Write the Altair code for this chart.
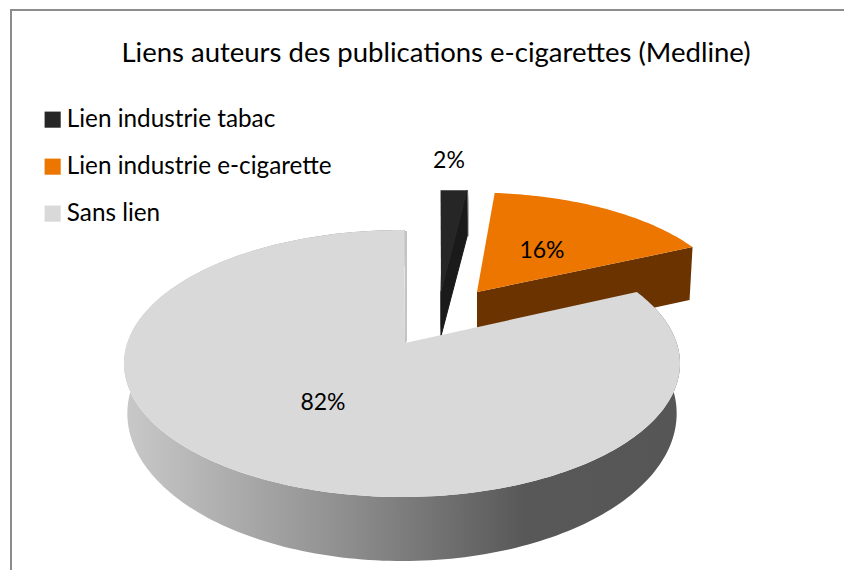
import math
import altair as alt

TITLE = "Liens auteurs des publications e-cigarettes (Medline)"
CATEGORIES = ["Lien industrie tabac", "Lien industrie e-cigarette", "Sans lien"]
SHARES = [2, 16, 82]
TOP_COLORS = ["#262626", "#ec7600", "#d9d9d9"]
SIDE_DARK = "#1a1a1a"
SIDE_ORANGE = "#6b3300"

FONT = "Lato"
W, H = 836, 562
# page coordinates -> chart coordinates
OX, OY = 8, 8
CX, CY, A, B = 402, 363.5, 278, 133.5      # rim ellipse of the pie
APEX = (405, 343)
P = (CY - APEX[1]) / B                     # perspective shift of the centre
ROT = 0.6


def rim(deg):
    t = math.radians(deg + ROT)
    u, v = math.sin(t), math.cos(t)
    d = 1 + P * v
    un, vn = u * math.sqrt(1 - P * P) / d, (v + P) / d
    return CX + A * un, CY - B * vn, vn


def arc(a0, a1, n=120):
    return [rim(a0 + (a1 - a0) * i / n) for i in range(n + 1)]


def shifted(pts, apex, sx, sy):
    return [(apex[0] + (p[0] - APEX[0]) * sx, apex[1] + (p[1] - APEX[1]) * sy) for p in pts]


def feature(pts, cat=None):
    pts = [[p[0] - OX, p[1] - OY] for p in pts]
    pts.append(pts[0])
    return {"type": "Feature", "properties": {"cat": cat or ""},
            "geometry": {"type": "Polygon", "coordinates": [pts]}}


def collection(*features):
    return alt.Data(values={"type": "FeatureCollection", "features": list(features)},
                    format=alt.DataFormat(type="json", property="features"))


def solid(fill, *features, seam=None):
    return alt.Chart(collection(*features)).mark_geoshape(
        fill=fill, strokeWidth=1 if seam else 0, stroke=seam or "transparent"
    ).project(type="identity", scale=1, translate=[0, 0])


deg = [s * 3.6 for s in SHARES]
a_black = deg[0]
a_main_start = deg[0] + deg[1]

# exploded black sliver
black_apex = (441, 292)
bt = shifted(arc(0, a_black, 12), black_apex, 0.89, 0.90)
bt = [(p[0], bt[0][1]) for p in bt]
black_top = [black_apex] + bt
black_side = [black_apex, bt[-1], (bt[-1][0], bt[-1][1] + 46), (black_apex[0], black_apex[1] + 44)]
black_edge = [(black_apex[0] - 1, black_apex[1] + 45), (black_apex[0] - 1, black_apex[1] - 20),
              (black_apex[0] + 1, black_apex[1] + 20)]
black_edge2 = [(bt[-1][0] + 1.5, bt[-1][1]), (bt[-1][0] + 1.5, bt[-1][1] + 46), (bt[-1][0] - 1, bt[-1][1] + 46)]

# exploded orange slice
orange_apex = (477, 292)
ot = shifted(arc(a_black - 2.5, a_main_start, 60), orange_apex, 0.93, 0.88)
orange_top = [orange_apex] + ot
orange_side = [orange_apex, ot[-1], (ot[-1][0] - 3, ot[-1][1] + 53), (orange_apex[0], orange_apex[1] + 54)]

# main slice
main_rim = arc(a_main_start, 360, 240)
main_top = [APEX] + [(p[0], p[1]) for p in main_rim]
lower = [(CX + (p[0] - CX) * 0.988, p[1] + 50 - 14 * p[2]) for p in main_rim]
main_side = [(p[0], p[1]) for p in main_rim] + lower[::-1]
main_cut = [(405, 231), (407, 231), (407, 341), (405, 344)]

side_gradient = alt.Gradient(
    gradient="linear", x1=0, x2=1, y1=0, y2=0,
    stops=[alt.GradientStop(color="#c9c9c9", offset=0),
           alt.GradientStop(color="#8e8e8e", offset=0.4),
           alt.GradientStop(color="#585858", offset=0.72),
           alt.GradientStop(color="#565656", offset=1)])

border = alt.Chart(collection(
    {"type": "Feature", "properties": {},
     "geometry": {"type": "LineString",
                  "coordinates": [[11 - OX, H + 20], [11 - OX, 10 - OY], [W + 20, 10 - OY]]}}
)).mark_geoshape(filled=False, stroke="#8c8c8c", strokeWidth=2).project(
    type="identity", scale=1, translate=[0, 0])

tops = alt.Chart(collection(
    feature(black_top, CATEGORIES[0]),
)).mark_geoshape(strokeWidth=0, stroke="transparent").encode(
    color=alt.Color("properties.cat:N",
                    scale=alt.Scale(domain=CATEGORIES, range=TOP_COLORS),
                    legend=alt.Legend(title=None, orient="none", legendX=32.5, legendY=99.5,
                                      symbolType="square", symbolSize=260, symbolStrokeWidth=0,
                                      labelFont=FONT, labelFontSize=24.3,
                                      labelColor="#000000", labelLimit=400,
                                      rowPadding=22, labelOffset=2))
).project(type="identity", scale=1, translate=[0, 0])


def colored(*features):
    return alt.Chart(collection(*features)).mark_geoshape(strokeWidth=0, stroke="transparent").encode(
        color=alt.Color("properties.cat:N", scale=alt.Scale(domain=CATEGORIES, range=TOP_COLORS), legend=None)
    ).project(type="identity", scale=1, translate=[0, 0])


def label(text, x, y, size, align="center"):
    return alt.Chart(alt.Data(values=[{"t": text}])).mark_text(
        font=FONT, fontSize=size, color="#000000", align=align, baseline="middle"
    ).encode(text="t:N", x=alt.value(x - OX), y=alt.value(y - OY))


chart = alt.layer(
    border,
    solid("#8a8a8a", feature(black_edge), feature(black_edge2)),
    solid(SIDE_DARK, feature(black_side), seam=SIDE_DARK),
    tops,
    solid(SIDE_ORANGE, feature(orange_side)),
    colored(feature(orange_top, CATEGORIES[1])),
    solid("#c4c4c4", feature(main_cut)),
    solid(side_gradient, feature(main_side)),
    colored(feature(main_top, CATEGORIES[2])),
    label(TITLE, 436, 54, 27.5),
    label(f"{SHARES[0]}%", 449, 161, 23),
    label(f"{SHARES[1]}%", 542, 251, 23),
    label(f"{SHARES[2]}%", 323, 403, 23),
).properties(
    width=W, height=H, padding=0,
    autosize=alt.AutoSizeParams(type="none"),
    background="#ffffff",
).configure_view(stroke=None)

chart.save("out.html", embed_options={"renderer": "svg", "actions": False})
